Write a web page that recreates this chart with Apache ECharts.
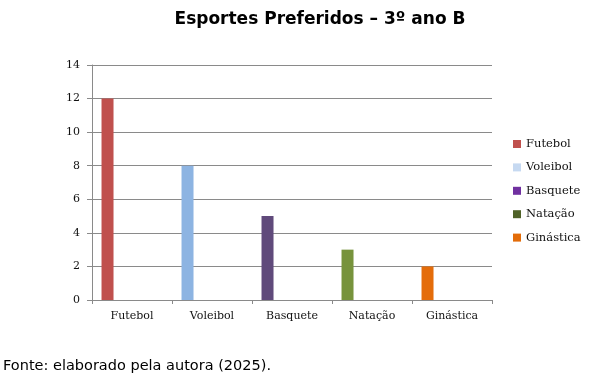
<!DOCTYPE html>
<html>
<head>
<meta charset="utf-8">
<script src="https://cdn.jsdelivr.net/npm/echarts@6/dist/echarts.min.js"></script>
<style>
  html, body { margin: 0; padding: 0; background: #fff; }
  #chart { width: 612px; height: 378px; }
</style>
</head>
<body>
<div id="chart"></div>
<script>
// dados
const categorias = ['Futebol', 'Voleibol', 'Basquete', 'Natação', 'Ginástica']
const valores = [12, 8, 5, 3, 2]
const yTicks = { min: 0, max: 14, interval: 2 }

// cores das barras e dos marcadores da legenda (diferentes no original)
const coresBarra = ['#C0504D', '#8DB4E2', '#604A7B', '#77933C', '#E46C0A']
const coresLegenda = ['#C0504D', '#C6D9F1', '#7030A0', '#4F6228', '#E36C09']

const chart = echarts.init(document.getElementById('chart'))

// uma série por esporte, empilhadas para ficarem na mesma posição
const series = categorias.map((nome, i) => ({
  name: nome,
  type: 'bar',
  stack: 'a',
  barWidth: 12,
  barGap: '308%',
  data: categorias.map((c, j) => (j === i ? valores[i] : '-')),
  itemStyle: { color: coresBarra[i] }
}))
// série vazia só para deslocar as barras para a esquerda
series.push({
  name: '_vazio',
  type: 'bar',
  stack: 'b',
  barWidth: 12,
  data: categorias.map(() => '-'),
  silent: true
})

const option = {
  animation: false,
  grid: { left: 92, right: 120, top: 65, bottom: 78 },
  graphic: [
    {
      type: 'text',
      x: 320,
      y: 20,
      style: {
        text: 'Esportes Preferidos – 3º ano B',
        font: 'bold 17px "DejaVu Sans"',
        fill: '#000',
        textAlign: 'center',
        textVerticalAlign: 'middle'
      }
    },
    {
      type: 'text',
      x: 3,
      y: 366,
      style: {
        text: 'Fonte: elaborado pela autora (2025).',
        font: '14.5px "DejaVu Sans"',
        fill: '#000',
        textAlign: 'left',
        textVerticalAlign: 'middle'
      }
    }
  ],
  legend: {
    orient: 'vertical',
    left: 513,
    top: 138,
    padding: 0,
    itemWidth: 8,
    itemHeight: 8,
    itemGap: 11.4,
    itemTextGap: 4,
    icon: 'rect',
    data: categorias.map((c, i) => ({ name: c, itemStyle: { color: coresLegenda[i] } })),
    textStyle: { fontFamily: 'DejaVu Serif', fontSize: 11.5, color: '#111' },
    selectedMode: false
  },
  xAxis: {
    type: 'category',
    data: categorias,
    axisLine: { lineStyle: { color: '#8A8A8A', width: 1 } },
    axisTick: { show: true, length: 4, lineStyle: { color: '#8A8A8A' } },
    axisLabel: { fontFamily: 'DejaVu Serif', fontSize: 11, color: '#111', margin: 11 },
    splitLine: { show: false }
  },
  yAxis: {
    type: 'value',
    min: yTicks.min,
    max: yTicks.max,
    interval: yTicks.interval,
    axisLine: { show: true, lineStyle: { color: '#8A8A8A', width: 1 } },
    axisTick: { show: true, length: 5, lineStyle: { color: '#8A8A8A' } },
    axisLabel: { fontFamily: 'DejaVu Serif', fontSize: 11, color: '#111', margin: 12 },
    splitLine: { show: true, lineStyle: { color: '#8A8A8A', width: 1 } }
  },
  series: series
}

chart.setOption(option)
</script>
</body>
</html>
